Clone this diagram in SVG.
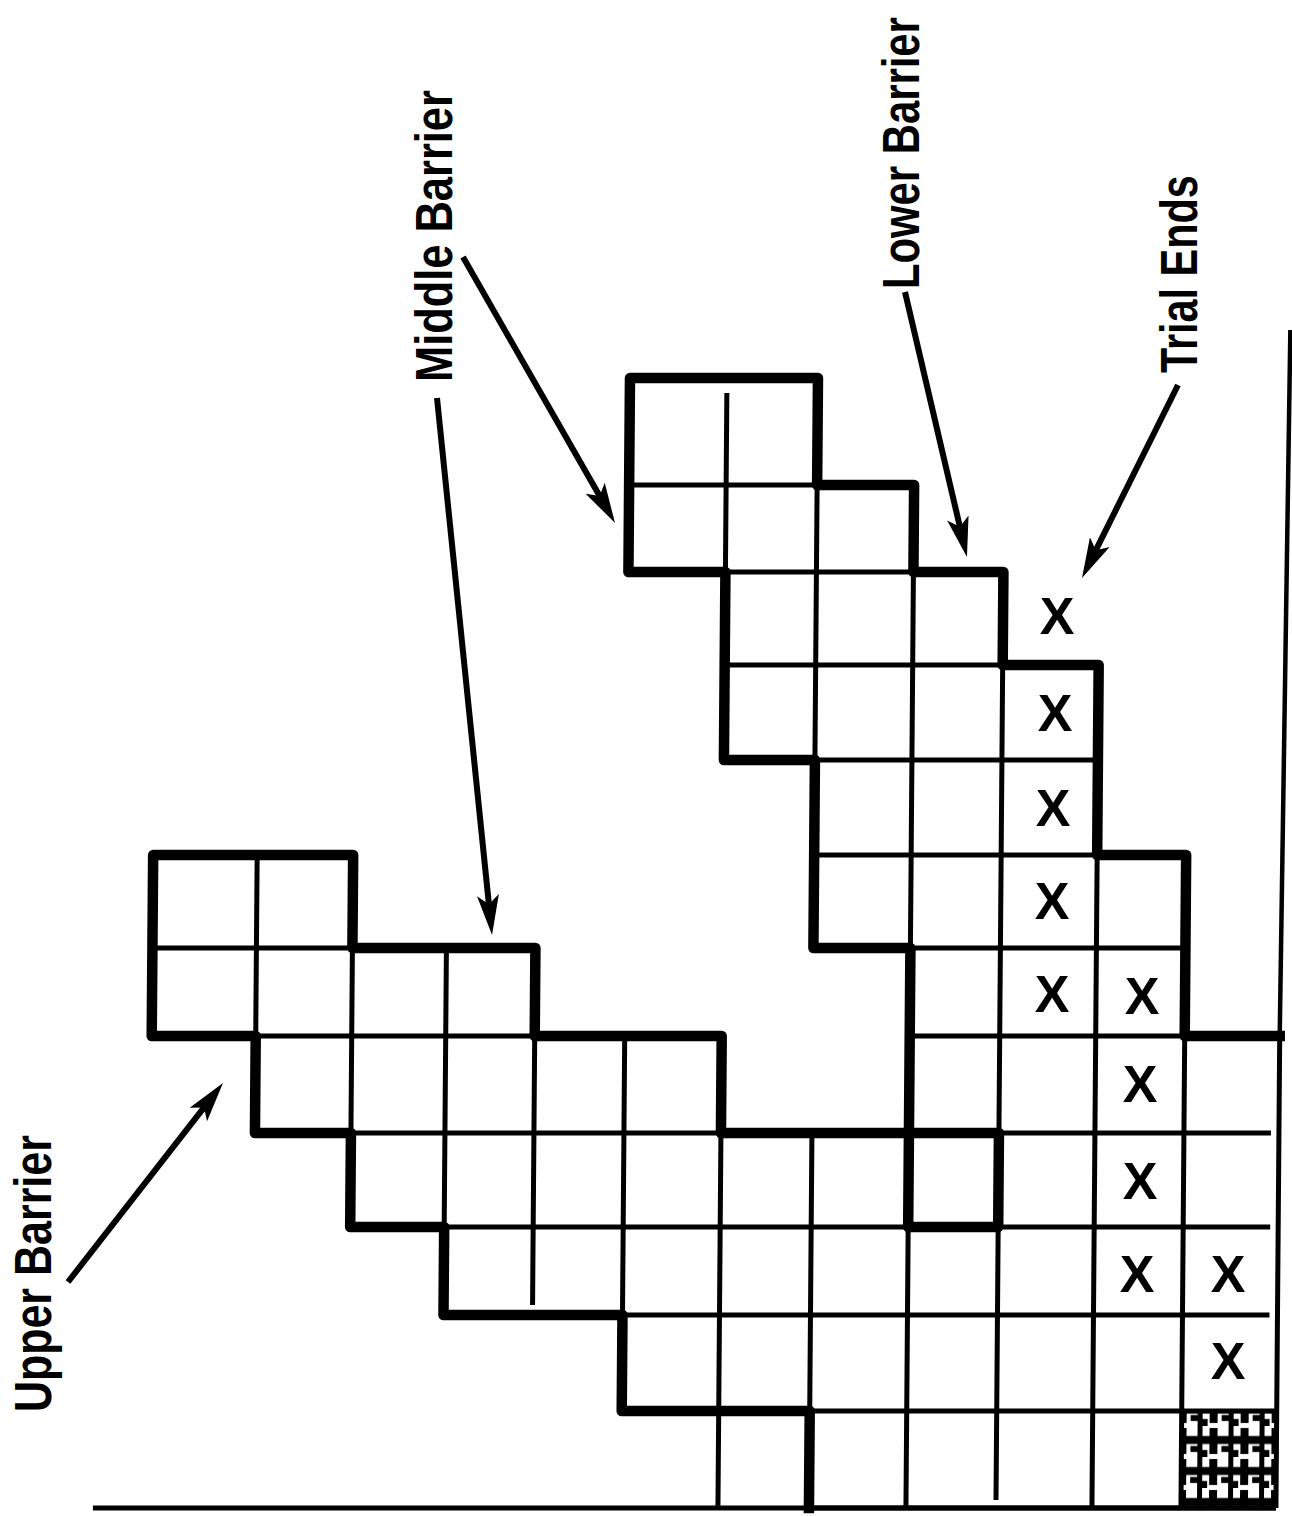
<svg xmlns="http://www.w3.org/2000/svg" width="1292" height="1516" viewBox="0 0 1292 1516">
  <style>
    .thin { fill: none; stroke: #000; stroke-width: 5; stroke-linecap: butt; }
    .thick { fill: none; stroke: #000; stroke-width: 10.5; stroke-linejoin: round; stroke-linecap: square; }
    .arrow { fill: none; stroke: #000; stroke-width: 6; marker-end: url(#head); }
    .label { font-family: "Liberation Sans", Arial, sans-serif; font-size: 52px; font-weight: bold; fill: #000; }
    .mark { font-family: "Liberation Sans", Arial, sans-serif; font-size: 52px; font-weight: bold; fill: #000; text-anchor: middle; }
  </style>
  <defs>
    <marker id="head" markerUnits="userSpaceOnUse" viewBox="0 0 40 24" markerWidth="40" markerHeight="24" refX="20" refY="12" orient="auto">
      <path d="M40,12 L0,1 L9,12 L0,23 Z" fill="#000"/>
    </marker>
    <pattern id="stipple" patternUnits="userSpaceOnUse" width="31" height="31">
      <rect width="31" height="31" fill="#fff"/>
      <rect x="0" y="10" width="31" height="8" fill="#000"/>
      <rect x="12" y="2" width="8" height="26" fill="#000"/>
      <rect x="0" y="0" width="5" height="31" fill="#000"/>
      <rect x="24" y="20" width="7" height="6" fill="#000"/>
      <rect x="5" y="24" width="5" height="7" fill="#000"/>
    </pattern>
  </defs>

  <rect width="1292" height="1516" fill="#fff"/>

  <!-- grid of cells, drawn on a slightly slanted base -->
  <g id="grid" transform="skewX(-0.4584)">
    <!-- shaded corner cell -->
    <rect id="cell-shaded" x="1193" y="1411" width="95" height="97" fill="url(#stipple)"/>

    <!-- horizontal grid lines -->
    <path class="thin" d="M633,378 H821 M633,485 H918 M633,572 H1008 M730,665 H1104 M730,760 H1100
      M160,855 H360 M821,855 H1193 M160,948 H543 M821,948 H1193
      M160,1036 H730 M918,1036 H1288 M264,1133 H1280 M360,1227 H1280
      M454,1315 H1280 M633,1411 H1288 M821,1508 H1288"/>
    <!-- vertical grid lines -->
    <path class="thin" d="M160,855 V1036 M264,855 V1133 M360,855 V1227 M454,948 V1315 M543,948 V1305
      M633,378 V572 M633,1036 V1411 M730,393 V760 M730,1036 V1508
      M821,378 V948 M821,1133 V1508 M918,485 V1508 M1008,572 V1500
      M1104,665 V1508 M1193,855 V1508 M1288,1036 V1508"/>

    <!-- barrier outline -->
    <path class="thick" d="M821,1508 L821,1411 L633,1411 L633,1315 L454,1315 L454,1227 L360,1227 L360,1133
      L264,1133 L264,1036 L160,1036 L160,855 L360,855 L360,948 L543,948 L543,1036 L730,1036 L730,1133
      L1008,1133 L1008,1227 L918,1227 L918,948 L821,948 L821,760 L730,760 L730,572 L633,572 L633,378
      L821,378 L821,485 L918,485 L918,572 L1008,572 L1008,665 L1104,665 L1104,855 L1193,855 L1193,1036 L1288,1036"/>

    <!-- page edge and base line -->
    <path fill="none" stroke="#000" stroke-width="4.5" d="M1293,330 L1288,1036"/>
    <path fill="none" stroke="#000" stroke-width="5" d="M105,1508 H1288"/>
  </g>

  <!-- trial end marks -->
  <g id="marks">
    <text class="mark" x="1057" y="634">X</text>
    <text class="mark" x="1055" y="731">X</text>
    <text class="mark" x="1053" y="826">X</text>
    <text class="mark" x="1052" y="919">X</text>
    <text class="mark" x="1052" y="1012">X</text>
    <text class="mark" x="1142" y="1014">X</text>
    <text class="mark" x="1140" y="1102">X</text>
    <text class="mark" x="1140" y="1199">X</text>
    <text class="mark" x="1137" y="1292">X</text>
    <text class="mark" x="1228" y="1292">X</text>
    <text class="mark" x="1228" y="1379">X</text>
  </g>

  <!-- labels, condensed along the reading direction -->
  <g id="label-upper">
    <text class="label" transform="translate(51,1412) rotate(-90) scale(0.826,1)">Upper Barrier</text>
  </g>
  <g id="label-middle">
    <text class="label" transform="translate(452,382) rotate(-90) scale(0.835,1)">Middle Barrier</text>
  </g>
  <g id="label-lower">
    <text class="label" transform="translate(919,289) rotate(-90) scale(0.804,1)">Lower Barrier</text>
  </g>
  <g id="label-trial">
    <text class="label" transform="translate(1197,373) rotate(-90) scale(0.796,1)">Trial Ends</text>
  </g>

  <!-- pointer arrows -->
  <g id="connectors">
    <path class="arrow" d="M68,1282 L210.7,1098.8"/>
    <path class="arrow" d="M437,398 L490,915.1"/>
    <path class="arrow" d="M463,257 L605.1,505.6"/>
    <path class="arrow" d="M905,292 L962.4,537.5"/>
    <path class="arrow" d="M1178,385 L1090.9,560.1"/>
  </g>
</svg>
